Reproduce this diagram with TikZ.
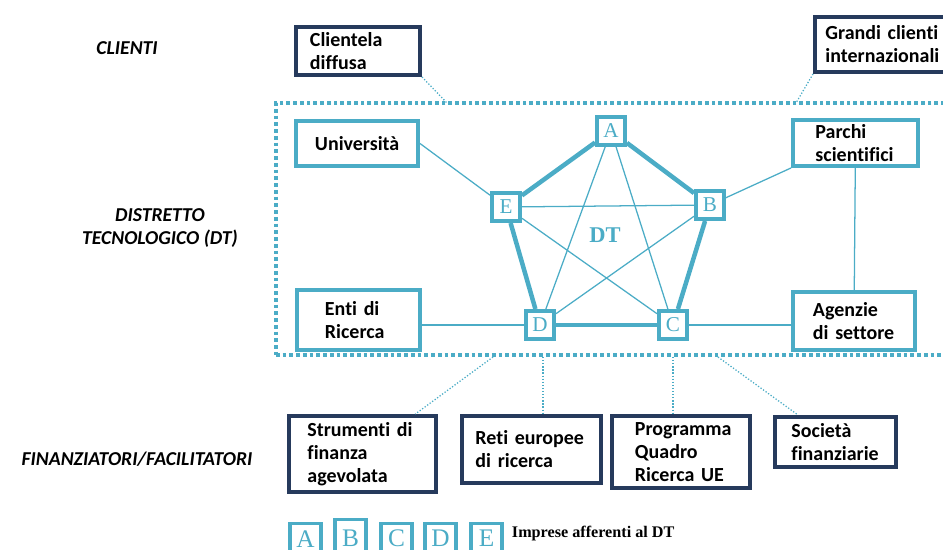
\documentclass[tikz,border=0pt]{standalone}
\usepackage{fontspec}
\setmainfont{Carlito}[Ligatures=NoCommon]
\newfontfamily\serifdt{Liberation Serif}
\usetikzlibrary{positioning,calc,backgrounds}
\definecolor{dtteal}{RGB}{75,172,198}
\definecolor{dtnavy}{RGB}{38,58,92}

\begin{document}
\begin{tikzpicture}[
    %---- GLOBAL STYLE ----
    x=0.025cm, y=-0.025cm,                          % 1 unit = 1 px of the layout
    font=\fontsize{14.2}{16.3}\selectfont\bfseries,
    box/.style = {rectangle, draw, line width=2.8pt, fill=white,
                  align=left, inner sep=0pt},
    clientbox/.style = {box, draw=dtnavy},
    fundbox/.style = {box, draw=dtnavy},
    partnerbox/.style = {box, draw=dtteal},
    firm/.style = {rectangle, draw=dtteal, line width=2.8pt, fill=white,
                   text=dtteal, minimum size=0.7cm, inner sep=0pt,
                   font=\serifdt\fontsize{15}{15}\selectfont},
    keyfirm/.style = {firm, line width=2.4pt, minimum width=0.78cm,
                      minimum height=0.75cm, font=\serifdt\fontsize{18}{18}\selectfont},
    ring/.style = {draw=dtteal, line width=3.2pt},
    link/.style = {draw=dtteal, line width=0.9pt},
    tie/.style = {draw=dtteal, line width=0.9pt, dash pattern=on 0.9pt off 1.3pt},
    layer/.style = {font=\fontsize{14}{17}\selectfont\bfseries\itshape, align=center},
]
\useasboundingbox (0,0) rectangle (943,550);

%---- ROW LABELS ----
\node (lclienti)   [layer] at (127,48)  {CLIENTI};
\node (ldistretto) [layer] at (160,228) {DISTRETTO\\TECNOLOGICO (DT)};
\node (lfinanz)    [layer] at (137,459) {FINANZIATORI/FACILITATORI};

%---- DISTRICT FRAME ----
\node (dt) [draw=dtteal, line width=2.5pt, dash pattern=on 2.6pt off 2.2pt,
            minimum width=16.85cm, minimum height=6.3cm] at (613,229) {};

%---- CLIENTS ----
\node (clientela) [clientbox, minimum width=3.1cm, minimum height=1.2cm,
                   text width=2.4cm] at (358,51) {Clientela\\diffusa};
\node (grandi)    [clientbox, minimum width=3.425cm, minimum height=1.375cm,
                   text width=2.9cm] at (883.5,44.5) {Grandi clienti\\internazionali};

%---- PARTNERS INSIDE THE DT ----
\node (univ)    [partnerbox, minimum width=3.05cm, minimum height=1.125cm,
                 text width=2.1cm] at (357,143.5) {Università};
\node (parchi)  [partnerbox, minimum width=3.125cm, minimum height=1.15cm,
                 text width=2.0cm] at (855.5,143) {Parchi\\scientifici};
\node (enti)    [partnerbox, minimum width=3.075cm, minimum height=1.5cm,
                 text width=1.675cm] at (358.5,320) {Enti di\\Ricerca};
\node (agenzie) [partnerbox, minimum width=3.05cm, minimum height=1.45cm,
                 text width=2.05cm] at (854,321) {Agenzie\\di settore};

%---- FIRMS ----
\node (A) [firm] at (611,131) {A};
\node (B) [firm] at (710,205) {B};
\node (C) [firm] at (673,325) {C};
\node (D) [firm] at (540,325) {D};
\node (E) [firm] at (506,207) {E};
\node (dtlabel) [text=dtteal, font=\serifdt\fontsize{16}{16}\selectfont\bfseries]
      at (605,235) {DT};

%---- FUNDERS ----
\node (strumenti) [fundbox, minimum width=3.675cm, minimum height=1.9cm,
                   text width=2.75cm] at (362.5,454) {Strumenti di\\finanza\\agevolata};
\node (reti)      [fundbox, minimum width=3.475cm, minimum height=1.675cm,
                   text width=2.8cm] at (531.5,449.5) {Reti europee\\di ricerca};
\node (programma) [fundbox, minimum width=3.45cm, minimum height=1.8cm,
                   text width=2.3cm] at (681,452) {Programma\\Quadro\\Ricerca UE};
\node (societa)   [fundbox, minimum width=3.025cm, minimum height=1.25cm,
                   text width=2.2cm] at (835.5,442) {Società\\finanziarie};

%---- LINKS ----
\begin{scope}[on background layer]
  \foreach \a/\b in {A/B, B/C, C/D, D/E, E/A}
    \draw[ring] (\a) -- (\b);
  \foreach \a/\b in {A/D, A/C, E/B, E/C, B/D}
    \draw[link] (\a) -- (\b);
  \draw[link] (univ.east) -- (E);
  \draw[link] (parchi.south west) -- (B);
  \draw[link] (parchi) -- (agenzie);
  \draw[link] (D) -- (D -| enti.east);
  \draw[link] (C) -- (C -| agenzie.west);
\end{scope}

%---- DOTTED TIES TO THE DT ----
\coordinate (clin) at (447,103);
\coordinate (grin) at (796,103);
\coordinate (f1) at (493,357);
\coordinate (f2) at (543,357);
\coordinate (f3) at (673,357);
\coordinate (f4) at (718,357);
\draw[tie] (clientela.south east) -- (clin);
\draw[tie] (grandi.south west) -- (grin);
\draw[tie] (f1) -- ($(strumenti.north)!0.7!(strumenti.north east)$);
\draw[tie] (f2) -- (f2 |- reti.north);
\draw[tie] (f3) -- (f3 |- programma.north);
\draw[tie] (f4) -- ($(societa.north west)!0.4!(societa.north)$);

%---- KEY ----
\node (kA) [keyfirm, anchor=north] at (305.5,522) {A};
\node (kB) [keyfirm, anchor=north, minimum height=0.95cm] at (350.5,518) {B};
\node (kC) [keyfirm, anchor=north] at (396.5,522) {C};
\node (kD) [keyfirm, anchor=north] at (440.5,522) {D};
\node (kE) [keyfirm, anchor=north] at (486.5,522) {E};
\node (keytext) [anchor=west, font=\serifdt\fontsize{11.5}{11.5}\selectfont\bfseries]
      at (507,534) {Imprese afferenti al DT};
\end{tikzpicture}
\end{document}
